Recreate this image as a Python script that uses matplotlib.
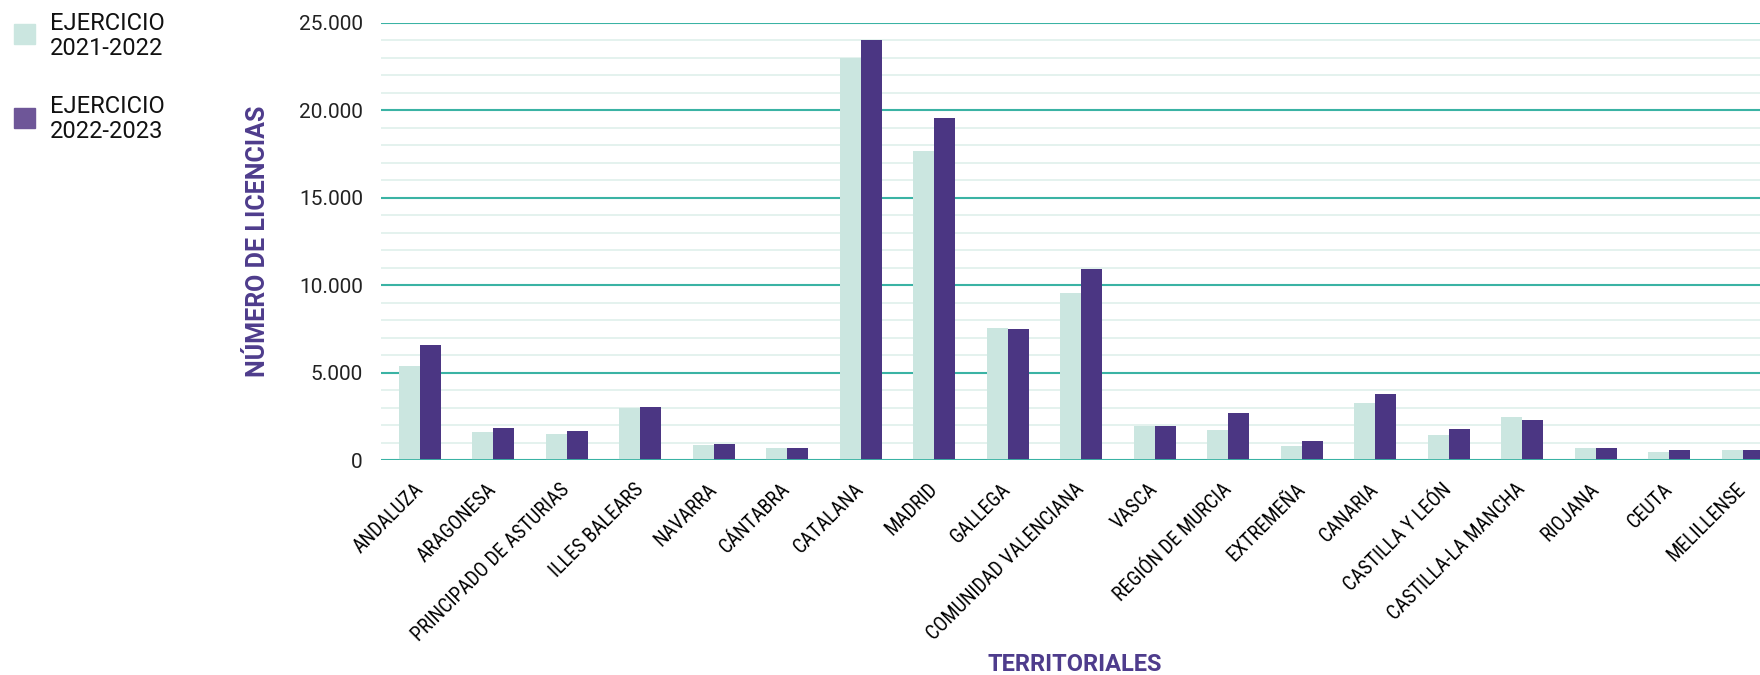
import numpy as np
import matplotlib
matplotlib.use("Agg")
import matplotlib.pyplot as plt
from matplotlib.patches import Rectangle
from matplotlib.ticker import MultipleLocator, FuncFormatter

territorios = ["ANDALUZA", "ARAGONESA", "PRINCIPADO DE ASTURIAS", "ILLES BALEARS",
               "NAVARRA", "CÁNTABRA", "CATALANA", "MADRID", "GALLEGA",
               "COMUNIDAD VALENCIANA", "VASCA", "REGIÓN DE MURCIA", "EXTREMEÑA",
               "CANARIA", "CASTILLA Y LEÓN", "CASTILLA-LA MANCHA", "RIOJANA",
               "CEUTA", "MELILLENSE"]
ej_2021_2022 = [5380, 1600, 1490, 3000, 860, 690, 23000, 17680, 7550,
                9550, 1950, 1720, 800, 3260, 1430, 2460, 690, 460, 570]
ej_2022_2023 = [6580, 1830, 1660, 3030, 920, 690, 24000, 19570, 7490,
                10930, 1950, 2690, 1090, 3780, 1770, 2290, 690, 570, 570]
series_labels = ["EJERCICIO\n2021-2022", "EJERCICIO\n2022-2023"]

light = "#cbe6e0"
dark = "#4b3683"
dark_legend = "#6e5698"
teal = "#3ab3a4"
minor_c = "#dcefe9"
purple = "#4e3c8c"

cond = ["Roboto Condensed", "Liberation Sans Narrow", "DejaVu Sans Condensed", "Roboto", "DejaVu Sans"]
plt.rcParams["font.family"] = ["Roboto", "DejaVu Sans"]

fig = plt.figure(figsize=(17.6, 6.75), dpi=100)
ax = fig.add_axes([381 / 1760, 1 - 460 / 675, 1379 / 1760, 437 / 675])

x = np.arange(len(territorios))
w = 0.286
ax.bar(x - w / 2, ej_2021_2022, width=w, color=light, zorder=3)
ax.bar(x + w / 2, ej_2022_2023, width=w, color=dark, zorder=3)

ax.set_xlim(-0.53, -0.53 + 1379 / 73.5)
ax.set_ylim(0, 25000)
ax.yaxis.set_major_locator(MultipleLocator(5000))
ax.yaxis.set_minor_locator(MultipleLocator(1000))
ax.yaxis.set_major_formatter(FuncFormatter(lambda v, p: "{:,.0f}".format(v).replace(",", ".")))
ax.grid(axis="y", which="minor", color=minor_c, lw=1.1, zorder=1)
ax.grid(axis="y", which="major", color=teal, lw=1.5, zorder=2)
ax.axhline(0, color=teal, lw=2, zorder=4)
for s in ax.spines.values():
    s.set_visible(False)
ax.tick_params(axis="both", which="both", length=0)
ax.tick_params(axis="y", labelsize=15, pad=13, labelcolor="#222222")

ax.set_xticks(x)
ax.set_xticklabels(territorios, rotation=45, ha="right", va="center",
                   rotation_mode="anchor", family=cond, fontsize=14.5, color="#000000")
ax.tick_params(axis="x", pad=19)

ax.set_ylabel("NÚMERO DE LICENCIAS", fontsize=18, color=purple, fontweight="bold")
ax.yaxis.set_label_coords(-0.0805, 0.5)
ax.set_xlabel("TERRITORIALES", fontsize=17, color=purple, fontweight="bold")
ax.xaxis.set_label_coords(0.503, -0.4416)

# leyenda manual
H = 675
for i, (lab, col) in enumerate(zip(series_labels, [light, dark_legend])):
    y0 = [24, 108][i]
    fig.add_artist(Rectangle((14 / 1760, 1 - (y0 + 20) / H), 21 / 1760, 20 / H,
                             transform=fig.transFigure, color=col))
    fig.text(50 / 1760, 1 - [36, 119][i] / H, lab, fontsize=17, va="center",
             ha="left", color="#111111", linespacing=1.1)

plt.savefig("out.png", dpi=100)
